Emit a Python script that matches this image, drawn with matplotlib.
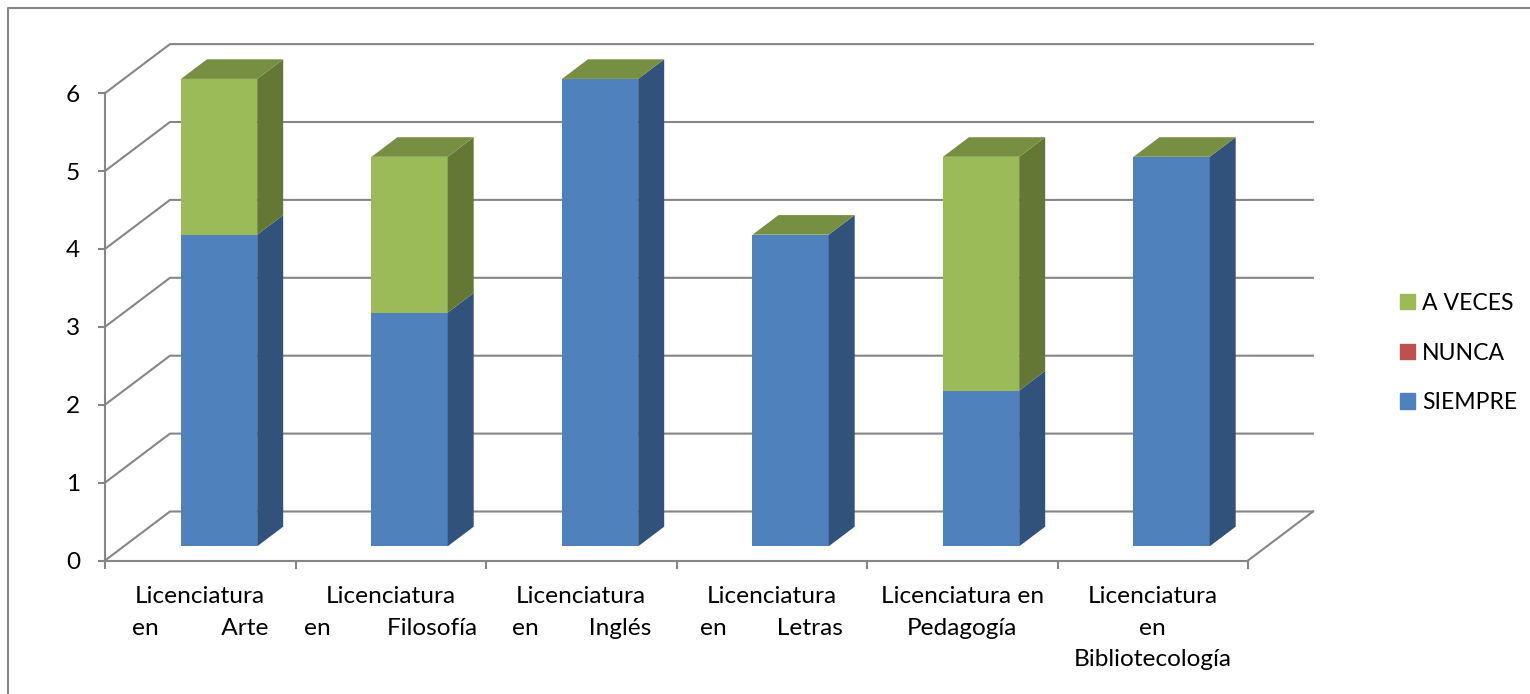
import numpy as np
import matplotlib
matplotlib.use("Agg")
import matplotlib.pyplot as plt
from matplotlib.lines import Line2D
from matplotlib.patches import Patch

plt.rcParams['font.family'] = ['Lato', 'DejaVu Sans']

carreras = ["Licenciatura\nen          Arte",
            "Licenciatura\nen         Filosofía",
            "Licenciatura\nen        Inglés",
            "Licenciatura\nen        Letras",
            "Licenciatura en\nPedagogía",
            "Licenciatura\nen\nBibliotecología"]
siempre = [4, 3, 6, 4, 2, 5]
nunca = [0, 0, 0, 0, 0, 0]
a_veces = [2, 2, 0, 0, 3, 0]
ticks_y = [0, 1, 2, 3, 4, 5, 6]

GRIS = '#868686'
# depth of the fake 3d box, in data units
DX = 65 / 190.5
DY = 49 / 77.9
P0 = 14.2 / 49   # where the bars start inside the depth
P1 = 33.8 / 49   # where they end
ANCHO = 0.4


def caja(ax, x, y0, y1, frente, lado):
    x0 = x - ANCHO / 2 + DX * P0
    x1 = x + ANCHO / 2 + DX * P0
    b0 = y0 + DY * P0
    b1 = y1 + DY * P0
    sx = DX * (P1 - P0)
    sy = DY * (P1 - P0)
    ax.fill([x0, x1, x1, x0], [b0, b0, b1, b1], color=frente, lw=0, clip_on=False, zorder=3)
    ax.fill([x1, x1 + sx, x1 + sx, x1], [b0, b0 + sy, b1 + sy, b1], color=lado, lw=0, clip_on=False, zorder=3)


fig = plt.figure(figsize=(15.3, 6.94), dpi=100)
ax = fig.add_axes([105 / 1530, 1 - 560.5 / 694, 1143 / 1530, 467.4 / 694])
ax.set_xlim(0, 6)
ax.set_ylim(0, 6)

# walls
for k in ticks_y:
    ax.plot([0, DX, 6 + DX], [k, k + DY, k + DY], color=GRIS, lw=1.5, clip_on=False, zorder=1)
ax.plot([6, 6 + DX], [0, DY], color=GRIS, lw=1.5, clip_on=False, zorder=1)

pos = np.arange(len(carreras)) + 0.5
for i, x in enumerate(pos):
    s, n, a = siempre[i], nunca[i], a_veces[i]
    caja(ax, x, 0, s, '#4F81BD', '#31527A')
    caja(ax, x, s, s + n, '#C0504D', '#7F302E')
    caja(ax, x, s + n, s + n + a, '#9BBB59', '#647734')
    # top of the stack
    alto = s + n + a
    x0 = x - ANCHO / 2 + DX * P0
    x1 = x + ANCHO / 2 + DX * P0
    b = alto + DY * P0
    sx = DX * (P1 - P0)
    sy = DY * (P1 - P0)
    ax.fill([x0, x1, x1 + sx, x0 + sx], [b, b, b + sy, b + sy], color='#768F43', lw=0, clip_on=False, zorder=3)

for lado in ['top', 'right']:
    ax.spines[lado].set_visible(False)
for lado in ['left', 'bottom']:
    ax.spines[lado].set_color(GRIS)
    ax.spines[lado].set_linewidth(1.5)

ax.set_yticks(ticks_y)
ax.tick_params(axis='y', length=5, width=1.5, color=GRIS, pad=13, labelsize=17.6)
ax.set_xticks(np.arange(7))
ax.set_xticklabels([])
ax.tick_params(axis='x', which='major', length=6, width=1.5, color=GRIS)
ax.set_xticks(pos, carreras, minor=True)
ax.tick_params(axis='x', which='minor', length=0, pad=18.5, labelsize=17.6)
for t in ax.get_xticklabels(minor=True):
    t.set_linespacing(1.62)

handles = [Patch(color='#9BBB59'), Patch(color='#C0504D'), Patch(color='#4F81BD')]
fig.legend(handles, ["A VECES", "NUNCA", "SIEMPRE"], loc='center left',
           bbox_to_anchor=(1400 / 1530, 1 - 353 / 694), frameon=False, fontsize=16.6,
           handlelength=0.64, handleheight=0.64, handletextpad=0.32, labelspacing=1.24,
           borderpad=0, borderaxespad=0)

# chart frame, only left and top fall inside the picture
fig.add_artist(Line2D([8 / 1530, 8 / 1530, 1], [0, 1 - 8 / 694, 1 - 8 / 694], color=GRIS, lw=1.5))

fig.savefig('out.png', dpi=100)
